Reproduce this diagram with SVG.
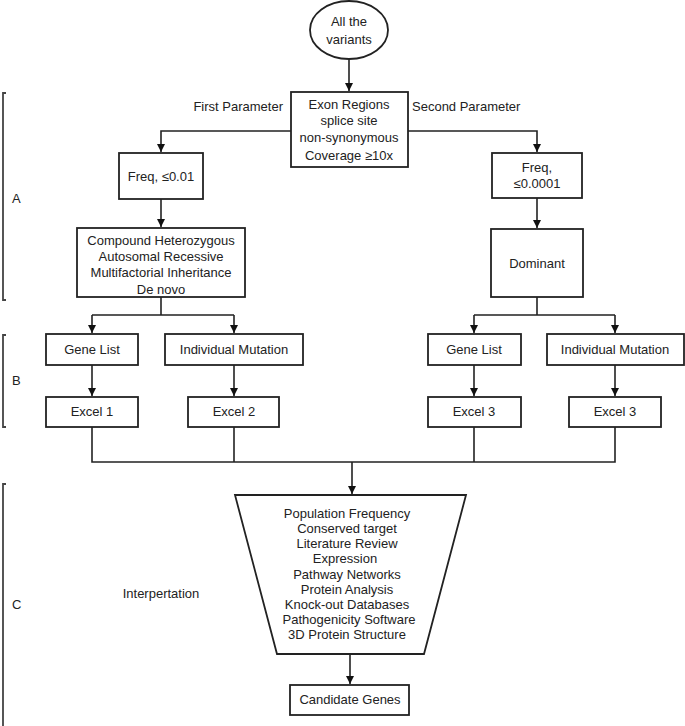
<svg xmlns="http://www.w3.org/2000/svg" width="685" height="726" viewBox="0 0 685 726">
<defs>
<marker id="arr" viewBox="0 0 10 10" refX="10" refY="5" markerWidth="8" markerHeight="8" markerUnits="userSpaceOnUse" orient="auto">
<path d="M0,0 L10,5 L0,10 z" fill="#111"/>
</marker>
<style>
text{font-family:"Liberation Sans",Arial,sans-serif;font-size:13px;fill:#222;text-anchor:middle;dominant-baseline:central}
.box{fill:#fff;stroke:#222;stroke-width:1.8}
.ln{fill:none;stroke:#222;stroke-width:1.6}
.ar{fill:none;stroke:#222;stroke-width:1.6;marker-end:url(#arr)}
.br{fill:none;stroke:#444;stroke-width:1.8}
.lbl{text-anchor:start}
</style>
</defs>
<rect width="685" height="726" fill="#fff"/>

<g id="connectors">
<path class="ar" d="M349,59 V91"/>
<path class="ar" d="M291,131 H161 V152"/>
<path class="ar" d="M408,131 H537 V152"/>
<path class="ar" d="M161,199 V227"/>
<path class="ar" d="M537,198 V228"/>
<path class="ln" d="M161,297 V315"/>
<path class="ar" d="M92,315 H234 M92,315 V333"/>
<path class="ar" d="M234,315 V333"/>
<path class="ln" d="M474,315 H615 M537,297 V315"/>
<path class="ar" d="M474,315 V333"/>
<path class="ar" d="M615,315 V333"/>
<path class="ar" d="M92,365 V396"/>
<path class="ar" d="M234,365 V396"/>
<path class="ar" d="M474,365 V396"/>
<path class="ar" d="M615,365 V396"/>
<path class="ln" d="M92,427 V462 H615 V427 M234,427 V462 M474,427 V462"/>
<path class="ar" d="M352,462 V494"/>
<path class="ar" d="M350,654 V684"/>
</g>

<g id="start">
<ellipse cx="349" cy="30" rx="39" ry="29" class="box"/>
<text x="349" y="21">All the</text>
<text x="349" y="39">variants</text>
</g>

<g id="filter">
<rect x="291" y="92" width="117" height="75" class="box"/>
<text x="349" y="104">Exon Regions</text>
<text x="349" y="120">splice site</text>
<text x="349" y="137">non-synonymous</text>
<text x="349" y="155">Coverage ≥10x</text>
</g>

<g id="label-first"><text x="283" y="106" style="text-anchor:end">First Parameter</text></g>
<g id="label-second"><text x="412" y="106" class="lbl">Second Parameter</text></g>

<g id="freq1">
<rect x="119" y="153" width="84" height="46" class="box"/>
<text x="161" y="176">Freq, ≤0.01</text>
</g>

<g id="freq2">
<rect x="492" y="153" width="90" height="45" class="box"/>
<text x="537" y="167">Freq,</text>
<text x="537" y="183">≤0.0001</text>
</g>

<g id="inheritance">
<rect x="77" y="228" width="168" height="69" class="box"/>
<text x="161" y="240">Compound Heterozygous</text>
<text x="161" y="256">Autosomal Recessive</text>
<text x="161" y="272">Multifactorial Inheritance</text>
<text x="161" y="289">De novo</text>
</g>

<g id="dominant">
<rect x="491" y="229" width="92" height="68" class="box"/>
<text x="537" y="263">Dominant</text>
</g>

<g id="genelist1">
<rect x="46" y="334" width="92" height="31" class="box"/>
<text x="92" y="349">Gene List</text>
</g>
<g id="indmut1">
<rect x="165" y="334" width="138" height="31" class="box"/>
<text x="234" y="349">Individual Mutation</text>
</g>
<g id="genelist2">
<rect x="428" y="334" width="93" height="31" class="box"/>
<text x="474" y="349">Gene List</text>
</g>
<g id="indmut2">
<rect x="547" y="334" width="137" height="31" class="box"/>
<text x="615" y="349">Individual Mutation</text>
</g>

<g id="excel1">
<rect x="46" y="397" width="92" height="30" class="box"/>
<text x="92" y="411">Excel 1</text>
</g>
<g id="excel2">
<rect x="188" y="397" width="91" height="30" class="box"/>
<text x="234" y="411">Excel 2</text>
</g>
<g id="excel3a">
<rect x="428" y="397" width="93" height="30" class="box"/>
<text x="474" y="411">Excel 3</text>
</g>
<g id="excel3b">
<rect x="569" y="397" width="92" height="30" class="box"/>
<text x="615" y="411">Excel 3</text>
</g>

<g id="interpretation">
<polygon points="235,495 466,495 424,654 277,654" class="box"/>
<text x="347" y="513">Population Frequency</text>
<text x="347" y="528">Conserved target</text>
<text x="347" y="543">Literature Review</text>
<text x="345" y="558">Expression</text>
<text x="347" y="574">Pathway Networks</text>
<text x="347" y="589">Protein Analysis</text>
<text x="347" y="604">Knock-out Databases</text>
<text x="349" y="619">Pathogenicity Software</text>
<text x="347" y="634">3D Protein Structure</text>
</g>

<g id="label-interp"><text x="161" y="593">Interpertation</text></g>

<g id="candidate">
<rect x="290" y="685" width="119" height="30" class="box"/>
<text x="350" y="699">Candidate Genes</text>
</g>

<g id="section-a">
<path class="br" d="M6,93 H3 V300 H6"/>
<text x="12" y="198" class="lbl">A</text>
</g>
<g id="section-b">
<path class="br" d="M6,335 H3 V427 H6"/>
<text x="12" y="380" class="lbl">B</text>
</g>
<g id="section-c">
<path class="br" d="M6,484 H3 V726"/>
<text x="12" y="604" class="lbl">C</text>
</g>
</svg>
